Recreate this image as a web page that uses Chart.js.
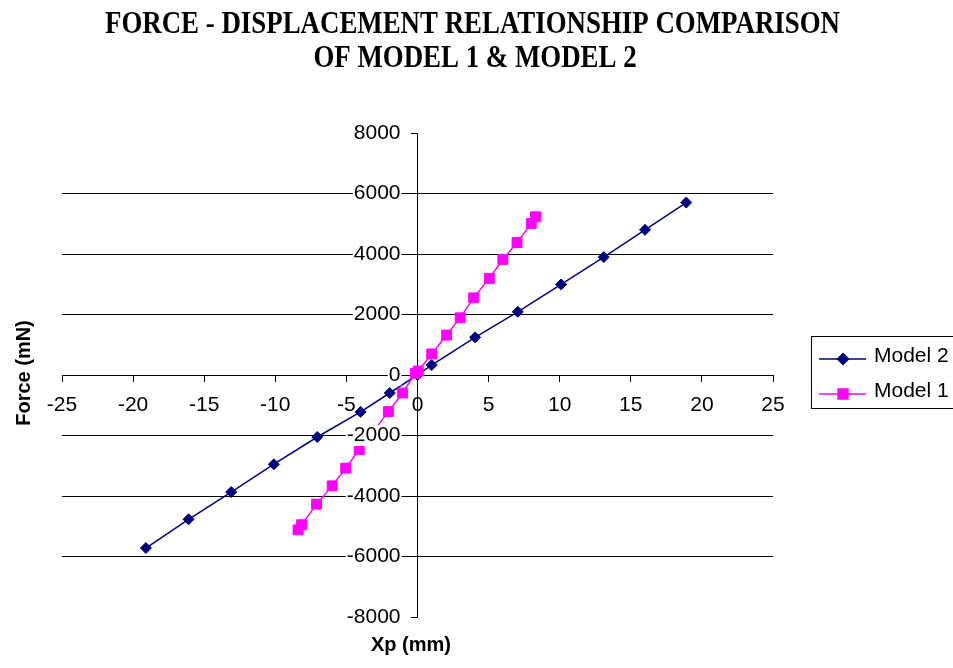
<!DOCTYPE html>
<html>
<head>
<meta charset="utf-8">
<script src="https://cdn.jsdelivr.net/npm/chart.js@4/dist/chart.umd.min.js"></script>
<style>
  html, body { margin: 0; padding: 0; background: #ffffff; }
  #wrap { width: 953px; height: 668px; }
</style>
</head>
<body>
<div id="wrap"><canvas id="chart" width="953" height="668"></canvas></div>
<script>
// Text
const titleLines = ['FORCE - DISPLACEMENT RELATIONSHIP COMPARISON', 'OF MODEL 1 & MODEL 2'];
const xAxisTitle = 'Xp (mm)';
const yAxisTitle = 'Force (mN)';
const seriesNames = ['Model 2', 'Model 1'];

// Model 2: displacement (mm) and force (mN)
const model2X = [-19.1, -16.1, -13.1, -10.1, -7.05, -4.0, -1.95, 0, 1.0, 4.05, 7.05, 10.1, 13.1, 16.0, 18.9];
const model2Y = [-5720, -4770, -3870, -2950, -2050, -1220, -595, 0, 330, 1245, 2090, 2995, 3900, 4800, 5700];

// Model 1: displacement (mm) and force (mN)
const model1X = [-8.4, -8.15, -7.1, -6.0, -5.05, -4.1, -3.05, -2.05, -1.05, -0.15, 0.05, 1.0, 2.05, 3.0, 3.95, 5.05, 6.0, 7.0, 8.0, 8.3];
const model1Y = [-5120, -4950, -4270, -3665, -3080, -2470, -1840, -1210, -595, 55, 130, 695, 1320, 1890, 2550, 3195, 3820, 4380, 5010, 5230];

// Axis ticks
const xTicks = [-25, -20, -15, -10, -5, 0, 5, 10, 15, 20, 25];
const yTicks = [-8000, -6000, -4000, -2000, 0, 2000, 4000, 6000, 8000];

const toPoints = (xs, ys) => xs.map((x, i) => ({ x: x, y: ys[i] }));

const SANS = '"Liberation Sans", Arial, sans-serif';
const SERIF = '"Liberation Serif", "Times New Roman", serif';

// Title, axis titles and the boxed legend
const decorations = {
  id: 'decorations',
  afterDraw(chart) {
    const ctx = chart.ctx;
    ctx.save();
    ctx.fillStyle = '#000000';

    // Title: bold serif, condensed horizontally
    ctx.font = 'bold 31px ' + SERIF;
    ctx.textAlign = 'center';
    ctx.textBaseline = 'alphabetic';
    const sx = 735 / ctx.measureText(titleLines[0]).width;
    [[titleLines[0], 472.5, 33], [titleLines[1], 475, 67]].forEach(([t, x, y]) => {
      ctx.save();
      ctx.translate(x, y);
      ctx.scale(sx, 1);
      ctx.fillText(t, 0, 0);
      ctx.restore();
    });

    // Axis titles
    ctx.font = 'bold 20px ' + SANS;
    ctx.textBaseline = 'middle';
    ctx.fillText(xAxisTitle, 411, 645);
    ctx.save();
    ctx.translate(24, 373);
    ctx.rotate(-Math.PI / 2);
    ctx.fillText(yAxisTitle, 0, 0);
    ctx.restore();

    // Legend: Model 2 above Model 1
    ctx.strokeStyle = '#000000';
    ctx.lineWidth = 1;
    ctx.strokeRect(811.5, 336.5, 160, 72);
    const rows = [359, 394];
    chart.data.datasets.forEach((ds, r) => {
      const y = rows[r];
      ctx.strokeStyle = ds.borderColor;
      ctx.lineWidth = ds.borderWidth;
      ctx.beginPath();
      ctx.moveTo(819, y);
      ctx.lineTo(866, y);
      ctx.stroke();
      ctx.fillStyle = ds.pointBackgroundColor;
      ctx.strokeStyle = ds.pointBorderColor;
      Chart.helpers.drawPoint(ctx, {
        pointStyle: ds.pointStyle,
        radius: ds.pointRadius,
        rotation: 0,
        borderWidth: 1
      }, 843, y);
      ctx.fillStyle = '#000000';
      ctx.font = '21px ' + SANS;
      ctx.textAlign = 'left';
      ctx.textBaseline = 'alphabetic';
      ctx.fillText(ds.label, 874, y + 3);
    });
    ctx.restore();
  }
};

new Chart(document.getElementById('chart'), {
  type: 'scatter',
  data: {
    datasets: [
      {
        label: seriesNames[0],
        data: toPoints(model2X, model2Y),
        showLine: true,
        borderColor: '#000080',
        borderWidth: 1.5,
        pointStyle: 'rectRot',
        pointRadius: 5.5,
        pointBackgroundColor: '#000080',
        pointBorderColor: '#000080',
        pointBorderWidth: 1,
        tension: 0,
        order: 1
      },
      {
        label: seriesNames[1],
        data: toPoints(model1X, model1Y),
        showLine: true,
        borderColor: '#FF00FF',
        borderWidth: 1.5,
        pointStyle: 'rect',
        pointRadius: 7,
        pointBackgroundColor: '#FF00FF',
        pointBorderColor: '#FF00FF',
        pointBorderWidth: 1,
        tension: 0,
        order: 0
      }
    ]
  },
  options: {
    responsive: false,
    animation: false,
    devicePixelRatio: 1,
    layout: { padding: { left: 62, right: 180, top: 133, bottom: 51 } },
    plugins: {
      legend: { display: false },
      title: { display: false },
      tooltip: { enabled: false }
    },
    scales: {
      x: {
        type: 'linear',
        position: 'center',
        min: -25,
        max: 25,
        afterBuildTicks: (s) => { s.ticks = xTicks.map(v => ({ value: v })); },
        afterFit: (s) => { s.height = 0; },
        grid: { drawOnChartArea: false, drawTicks: true, tickLength: 6, tickColor: '#000000' },
        border: { display: true, color: '#000000', width: 1 },
        ticks: {
          color: '#000000',
          font: { family: SANS, size: 21, lineHeight: 1 },
          padding: 14,
          maxRotation: 0,
          autoSkip: false,
          callback: (v) => String(v)
        }
      },
      y: {
        type: 'linear',
        position: 'center',
        min: -8000,
        max: 8000,
        afterBuildTicks: (s) => { s.ticks = yTicks.map(v => ({ value: v })); },
        afterFit: (s) => { s.width = 0; },
        grid: {
          drawOnChartArea: true,
          drawTicks: true,
          tickLength: 6,
          tickColor: '#000000',
          lineWidth: 1,
          color: (c) => (c.tick && Math.abs(c.tick.value) === 8000) ? 'rgba(0,0,0,0)' : '#000000'
        },
        border: { display: true, color: '#000000', width: 1 },
        ticks: {
          z: 1,
          color: '#000000',
          font: { family: SANS, size: 21, lineHeight: 1 },
          padding: 11,
          autoSkip: false,
          showLabelBackdrop: true,
          backdropColor: '#ffffff',
          backdropPadding: { top: 0, bottom: 0, left: 1, right: 1 },
          callback: (v) => String(v)
        }
      }
    }
  },
  plugins: [decorations]
});
</script>
</body>
</html>
